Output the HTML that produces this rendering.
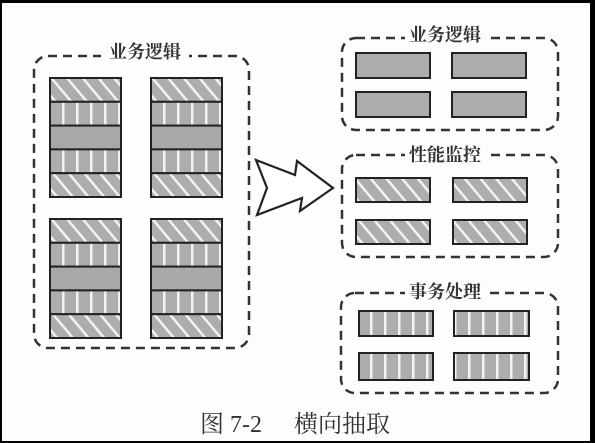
<!DOCTYPE html>
<html><head><meta charset="utf-8"><style>
html,body{margin:0;padding:0;background:#000;}
svg{display:block}
text{font-family:"Liberation Serif","Noto Serif CJK SC","Noto Sans CJK SC",serif;fill:#333}
</style></head><body>
<svg width="595" height="443" viewBox="0 0 595 443" xmlns="http://www.w3.org/2000/svg">
<defs>
<pattern id="diag" patternUnits="userSpaceOnUse" width="12" height="12" patternTransform="rotate(-40)">
<rect width="12" height="12" fill="#adadad"/><rect x="0" y="0" width="2.5" height="12" fill="#f2f2f2"/>
</pattern>
<pattern id="vert" patternUnits="userSpaceOnUse" width="14" height="10" x="6">
<rect width="14" height="10" fill="#adadad"/><rect x="0" y="0" width="2.5" height="10" fill="#f2f2f2"/>
</pattern>
</defs>
<rect x="2" y="3" width="588" height="438" fill="#fdfdfd"/>
<g fill="none" stroke="#333" stroke-width="2.5" stroke-dasharray="9,6">
<rect x="34" y="56" width="215" height="292" rx="14"/>
<rect x="342" y="38" width="216" height="92" rx="14"/>
<rect x="342" y="155" width="216" height="102" rx="14"/>
<rect x="341" y="293" width="217" height="100" rx="14"/>
</g>
<g fill="#fdfdfd">
<rect x="101" y="44" width="88" height="18"/>
<rect x="405" y="26" width="80" height="18"/>
<rect x="405" y="146" width="80" height="18"/>
<rect x="405" y="283" width="80" height="18"/>
</g>
<g font-size="18" text-anchor="middle" font-weight="bold">
<text x="145" y="58">业务逻辑</text>
<text x="445" y="41">业务逻辑</text>
<text x="445" y="161">性能监控</text>
<text x="445" y="298">事务处理</text>
</g>
<g stroke="#222" stroke-width="2">
<g id="stack">
<rect x="50" y="78" width="71" height="23.8" fill="url(#diag)"/>
<rect x="50" y="101.8" width="71" height="23.8" fill="url(#vert)"/>
<rect x="50" y="125.6" width="71" height="23.8" fill="#a8a8a8"/>
<rect x="50" y="149.4" width="71" height="23.8" fill="url(#vert)"/>
<rect x="50" y="173.2" width="71" height="23.8" fill="url(#diag)"/>
</g>
<use href="#stack" x="101"/>
<use href="#stack" y="141"/>
<use href="#stack" x="101" y="141"/>
<rect x="356" y="53" width="74" height="25" fill="#acacac"/>
<rect x="452" y="53" width="74" height="25" fill="#acacac"/>
<rect x="356" y="92" width="74" height="25" fill="#acacac"/>
<rect x="452" y="92" width="74" height="25" fill="#acacac"/>
<rect x="356" y="178" width="74" height="24" fill="url(#diag)"/>
<rect x="453" y="178" width="74" height="24" fill="url(#diag)"/>
<rect x="356" y="220" width="74" height="24" fill="url(#diag)"/>
<rect x="453" y="220" width="74" height="24" fill="url(#diag)"/>
<rect x="359" y="311" width="74" height="25" fill="url(#vert)"/>
<rect x="454" y="311" width="75" height="25" fill="url(#vert)"/>
<rect x="359" y="353" width="74" height="27" fill="url(#vert)"/>
<rect x="454" y="353" width="75" height="27" fill="url(#vert)"/>
</g>
<polygon points="256,160 295,175 297,161 333,188 300,211 302,198 257,215 267,188" fill="#fff" stroke="#222" stroke-width="2.2" stroke-linejoin="miter"/>
<text x="200" y="432" font-size="24">图 7-2</text>
<text x="294" y="432" font-size="24">横向抽取</text>
</svg>
</body></html>
